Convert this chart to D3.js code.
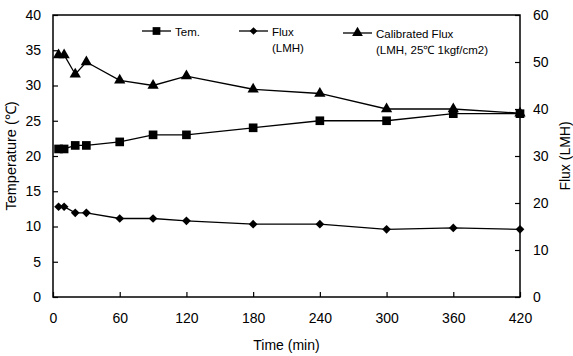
<!DOCTYPE html>
<html>
<head>
<meta charset="utf-8">
<script src="https://cdn.jsdelivr.net/npm/d3@7"></script>
<style>
  body { margin: 0; background: #fff; }
  text { font-family: "Liberation Sans", Arial, sans-serif; fill: #000; }
</style>
</head>
<body>
<div id="chart"></div>
<script>
// Data
let times = [5, 10, 20, 30, 60, 90, 120, 180, 240, 300, 360, 420];
let temperature = [21, 21, 21.5, 21.5, 22, 23, 23, 24, 25, 25, 26, 26];
let flux = [19.2, 19.2, 17.9, 17.9, 16.7, 16.7, 16.2, 15.5, 15.5, 14.4, 14.7, 14.4];
let calibratedFlux = [51.5, 51.5, 47.4, 50, 46.1, 45, 47, 44.2, 43.3, 40, 40, 39.1];
let xTicks = [0, 60, 120, 180, 240, 300, 360, 420];
let leftTicks = [0, 5, 10, 15, 20, 25, 30, 35, 40];
let rightTicks = [0, 10, 20, 30, 40, 50, 60];

let margin = { top: 15, right: 53, bottom: 59, left: 53 },
    width = 573 - margin.left - margin.right,
    height = 356 - margin.top - margin.bottom;

let x = d3.scaleLinear().domain([0, 420]).range([0, width]);
let yL = d3.scaleLinear().domain([0, 40]).range([height, 0]);
let yR = d3.scaleLinear().domain([0, 60]).range([height, 0]);

let svg = d3.select('#chart')
    .append('svg')
    .attr('width', 573)
    .attr('height', 356)
    .append('g')
    .attr('transform', 'translate(' + margin.left + ',' + margin.top + ')');

// frame
svg.append('rect')
    .attr('width', width).attr('height', height)
    .attr('fill', 'none').attr('stroke', '#000').attr('stroke-width', 1.5);

function styleAxis(g) {
    g.select('.domain').remove();
    g.selectAll('line').attr('stroke', '#000').attr('stroke-width', 1.2);
    g.selectAll('text').style('font-size', '14px').attr('fill', '#000');
}

svg.append('g')
    .attr('transform', 'translate(0,' + height + ')')
    .call(d3.axisBottom(x).tickValues(xTicks).tickSizeInner(-5).tickSizeOuter(0).tickPadding(16))
    .call(styleAxis);

svg.append('g')
    .call(d3.axisLeft(yL).tickValues(leftTicks).tickSizeInner(-5).tickSizeOuter(0).tickPadding(12))
    .call(styleAxis);

svg.append('g')
    .attr('transform', 'translate(' + width + ',0)')
    .call(d3.axisRight(yR).tickValues(rightTicks).tickSizeInner(-5).tickSizeOuter(0).tickPadding(13))
    .call(styleAxis);

// axis titles
svg.append('text')
    .attr('transform', 'translate(-37,' + (height / 2) + ') rotate(-90)')
    .attr('text-anchor', 'middle')
    .style('font-size', '14.5px')
    .text('Temperature (℃)');

svg.append('text')
    .attr('transform', 'translate(' + (width + 50) + ',' + (height / 2) + ') rotate(-90)')
    .attr('text-anchor', 'middle')
    .style('font-size', '14px')
    .text('Flux (LMH)');

svg.append('text')
    .attr('x', width / 2)
    .attr('y', height + 53)
    .attr('text-anchor', 'middle')
    .style('font-size', '14px')
    .text('Time (min)');

// series (diamond = square turned 45 degrees)
let series = [
    { values: temperature, y: yL, symbol: d3.symbolSquare, size: 75, rot: 0 },
    { values: flux, y: yR, symbol: d3.symbolSquare, size: 38, rot: 45 },
    { values: calibratedFlux, y: yR, symbol: d3.symbolTriangle, size: 55, rot: 0 }
];

series.forEach(function (s) {
    let line = d3.line()
        .x(function (d, i) { return x(times[i]); })
        .y(function (d) { return s.y(d); });

    svg.append('path')
        .datum(s.values)
        .attr('fill', 'none')
        .attr('stroke', '#000')
        .attr('stroke-width', 1.3)
        .attr('d', line);

    svg.selectAll(null)
        .data(s.values)
        .enter()
        .append('path')
        .attr('d', d3.symbol().type(s.symbol).size(s.size))
        .attr('transform', function (d, i) {
            return 'translate(' + x(times[i]) + ',' + s.y(d) + ') rotate(' + s.rot + ')';
        })
        .attr('fill', '#000');
});

// legend
let legend = [
    { lines: ['Tem.'], symbol: d3.symbolSquare, size: 60, rot: 0, x: 89, y: 16 },
    { lines: ['Flux', '(LMH)'], symbol: d3.symbolSquare, size: 30, rot: 45, x: 186, y: 16 },
    { lines: ['Calibrated Flux', '(LMH, 25℃ 1kgf/cm2)'], symbol: d3.symbolTriangle, size: 50, rot: 0, x: 290, y: 18 }
];

legend.forEach(function (l) {
    let g = svg.append('g').attr('transform', 'translate(' + l.x + ',' + l.y + ')');
    g.append('line')
        .attr('x1', 0).attr('x2', 29)
        .attr('stroke', '#000').attr('stroke-width', 1.3);
    g.append('path')
        .attr('d', d3.symbol().type(l.symbol).size(l.size))
        .attr('transform', 'translate(14.5,0) rotate(' + l.rot + ')')
        .attr('fill', '#000');
    l.lines.forEach(function (t, i) {
        g.append('text')
            .attr('x', 33)
            .attr('y', 4.5 + i * 16)
            .style('font-size', '11.5px')
            .text(t);
    });
});
</script>
</body>
</html>
